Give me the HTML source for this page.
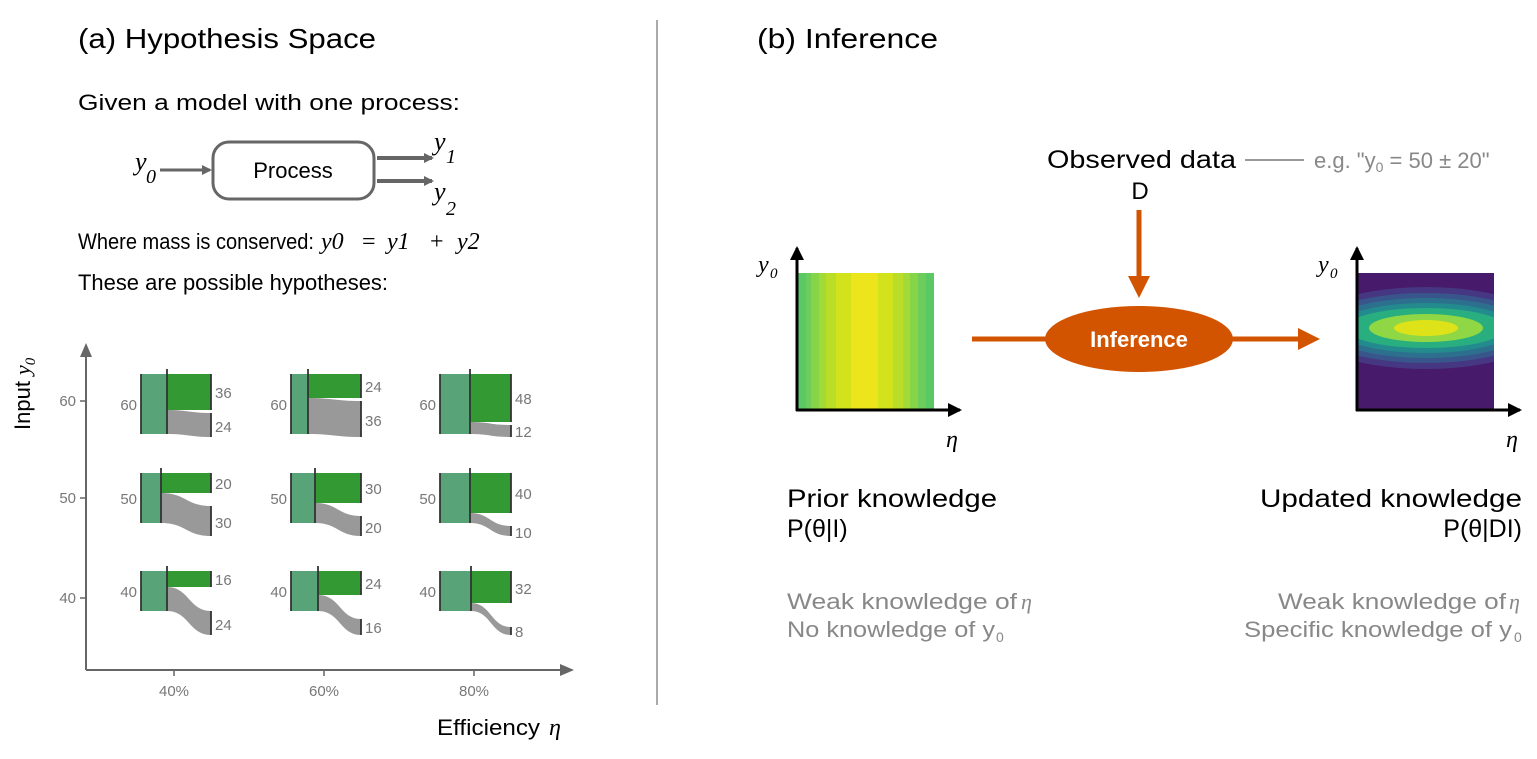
<!DOCTYPE html>
<html><head><meta charset="utf-8"><style>
html,body{margin:0;padding:0;background:#fff;}
svg{display:block;font-family:"Liberation Sans",sans-serif;}
.s{font-family:"Liberation Serif",serif;font-style:italic;}
.g{fill:#777;font-size:15px;}
</style></head><body>
<svg width="1537" height="759" viewBox="0 0 1537 759" xmlns="http://www.w3.org/2000/svg">
<defs>
<marker id="ga" markerWidth="10" markerHeight="10" refX="8" refY="5" orient="auto" markerUnits="userSpaceOnUse"><path d="M0,0 L10,5 L0,10 Z" fill="#666"/></marker>
<marker id="ka" markerWidth="14" markerHeight="14" refX="12" refY="7" orient="auto" markerUnits="userSpaceOnUse"><path d="M0,0 L14,7 L0,14 Z" fill="#000"/></marker>
<marker id="da" markerWidth="14" markerHeight="14" refX="12" refY="7" orient="auto" markerUnits="userSpaceOnUse"><path d="M0,1 L14,7 L0,13 Z" fill="#666"/></marker>
<clipPath id="pc"><rect x="1358" y="273" width="136" height="137"/></clipPath>
</defs>

<text x="78" y="48" font-size="28" textLength="298" lengthAdjust="spacingAndGlyphs">(a) Hypothesis Space</text>
<text x="78" y="110" font-size="22" textLength="382" lengthAdjust="spacingAndGlyphs">Given a model with one process:</text>
<text x="135" y="170" class="s" font-size="26">y</text><text x="146" y="183" class="s" font-size="20">0</text>
<line x1="160" y1="170" x2="210" y2="170" stroke="#666" stroke-width="3" marker-end="url(#ga)"/>
<rect x="213" y="142" width="161" height="57" rx="16" fill="#fff" stroke="#666" stroke-width="3"/>
<text x="293" y="178" font-size="22" text-anchor="middle">Process</text>
<line x1="377" y1="158" x2="432" y2="158" stroke="#666" stroke-width="4" marker-end="url(#ga)"/>
<line x1="377" y1="181" x2="432" y2="181" stroke="#666" stroke-width="4" marker-end="url(#ga)"/>
<text x="434" y="150" class="s" font-size="26">y</text><text x="446" y="163" class="s" font-size="20">1</text>
<text x="434" y="200" class="s" font-size="26">y</text><text x="446" y="215" class="s" font-size="20">2</text>
<text x="78" y="249" font-size="22" textLength="236" lengthAdjust="spacingAndGlyphs">Where mass is conserved:</text>
<g class="s" font-size="24"><text x="321" y="249">y0</text><text x="362" y="249" font-style="normal">=</text><text x="387" y="249">y1</text><text x="430" y="249" font-style="normal">+</text><text x="457" y="249">y2</text></g>
<text x="78" y="290" font-size="22" textLength="310" lengthAdjust="spacingAndGlyphs">These are possible hypotheses:</text>

<line x1="86" y1="670" x2="86" y2="345" stroke="#666" stroke-width="2" marker-end="url(#da)"/>
<line x1="86" y1="670" x2="572" y2="670" stroke="#666" stroke-width="2" marker-end="url(#da)"/>
<g stroke="#666" stroke-width="1.5"><line x1="80" y1="401" x2="86" y2="401"/><line x1="80" y1="498" x2="86" y2="498"/><line x1="80" y1="598" x2="86" y2="598"/>
<line x1="174" y1="670" x2="174" y2="676"/><line x1="324" y1="670" x2="324" y2="676"/><line x1="474" y1="670" x2="474" y2="676"/></g>
<g class="g" text-anchor="end"><text x="76" y="406">60</text><text x="76" y="503">50</text><text x="76" y="603">40</text></g>
<g class="g" text-anchor="middle"><text x="174" y="696">40%</text><text x="324" y="696">60%</text><text x="474" y="696">80%</text></g>
<text transform="translate(30,430) rotate(-90)" font-size="22" text-anchor="start">Input <tspan class="s">y</tspan><tspan class="s" font-size="15" dy="5">0</tspan></text>
<text x="437" y="735" font-size="22" textLength="103" lengthAdjust="spacingAndGlyphs">Efficiency</text><text x="549" y="735" class="s" font-size="24">η</text>

<g>
<rect x="141" y="374" width="26" height="60" fill="#58a378"/><rect x="167" y="374" width="44" height="36" fill="#339933"/>
<path d="M167,410 C189,410 189,413 211,413 L211,437 C189,437 189,434 167,434Z" fill="#999"/>
<rect x="291" y="374" width="17" height="60" fill="#58a378"/><rect x="308" y="374" width="53" height="24" fill="#339933"/>
<path d="M308,398 C334,398 334,401 361,401 L361,437 C334,437 334,434 308,434Z" fill="#999"/>
<rect x="440" y="374" width="30" height="60" fill="#58a378"/><rect x="470" y="374" width="41" height="48" fill="#339933"/>
<path d="M470,422 C490,422 490,425 511,425 L511,437 C490,437 490,434 470,434Z" fill="#999"/>
<rect x="141" y="473" width="20" height="50" fill="#58a378"/><rect x="161" y="473" width="50" height="20" fill="#339933"/>
<path d="M161,493 C186,493 186,506 211,506 L211,536 C186,536 186,523 161,523Z" fill="#999"/>
<rect x="291" y="473" width="24" height="50" fill="#58a378"/><rect x="315" y="473" width="46" height="30" fill="#339933"/>
<path d="M315,503 C338,503 338,516 361,516 L361,536 C338,536 338,523 315,523Z" fill="#999"/>
<rect x="440" y="473" width="30" height="50" fill="#58a378"/><rect x="470" y="473" width="41" height="40" fill="#339933"/>
<path d="M470,513 C490,513 490,526 511,526 L511,536 C490,536 490,523 470,523Z" fill="#999"/>
<rect x="141" y="571" width="26" height="40" fill="#58a378"/><rect x="167" y="571" width="44" height="16" fill="#339933"/>
<path d="M167,587 C189,587 189,611 211,611 L211,635 C189,635 189,611 167,611Z" fill="#999"/>
<rect x="291" y="571" width="27" height="40" fill="#58a378"/><rect x="318" y="571" width="43" height="24" fill="#339933"/>
<path d="M318,595 C340,595 340,619 361,619 L361,635 C340,635 340,611 318,611Z" fill="#999"/>
<rect x="440" y="571" width="31" height="40" fill="#58a378"/><rect x="471" y="571" width="40" height="32" fill="#339933"/>
<path d="M471,603 C491,603 491,627 511,627 L511,635 C491,635 491,611 471,611Z" fill="#999"/>
</g>
<g stroke="#333" stroke-width="1.8">
<line x1="141" y1="374" x2="141" y2="434"/><line x1="167" y1="369" x2="167" y2="434"/><line x1="211" y1="374" x2="211" y2="410"/><line x1="211" y1="413" x2="211" y2="437"/>
<line x1="291" y1="374" x2="291" y2="434"/><line x1="308" y1="369" x2="308" y2="434"/><line x1="361" y1="374" x2="361" y2="398"/><line x1="361" y1="401" x2="361" y2="437"/>
<line x1="440" y1="374" x2="440" y2="434"/><line x1="470" y1="369" x2="470" y2="434"/><line x1="511" y1="374" x2="511" y2="422"/><line x1="511" y1="425" x2="511" y2="437"/>
<line x1="141" y1="473" x2="141" y2="523"/><line x1="161" y1="468" x2="161" y2="523"/><line x1="211" y1="473" x2="211" y2="493"/><line x1="211" y1="506" x2="211" y2="536"/>
<line x1="291" y1="473" x2="291" y2="523"/><line x1="315" y1="468" x2="315" y2="523"/><line x1="361" y1="473" x2="361" y2="503"/><line x1="361" y1="516" x2="361" y2="536"/>
<line x1="440" y1="473" x2="440" y2="523"/><line x1="470" y1="468" x2="470" y2="523"/><line x1="511" y1="473" x2="511" y2="513"/><line x1="511" y1="526" x2="511" y2="536"/>
<line x1="141" y1="571" x2="141" y2="611"/><line x1="167" y1="566" x2="167" y2="611"/><line x1="211" y1="571" x2="211" y2="587"/><line x1="211" y1="611" x2="211" y2="635"/>
<line x1="291" y1="571" x2="291" y2="611"/><line x1="318" y1="566" x2="318" y2="611"/><line x1="361" y1="571" x2="361" y2="595"/><line x1="361" y1="619" x2="361" y2="635"/>
<line x1="440" y1="571" x2="440" y2="611"/><line x1="471" y1="566" x2="471" y2="611"/><line x1="511" y1="571" x2="511" y2="603"/><line x1="511" y1="627" x2="511" y2="635"/>
</g>
<g class="g">
<text x="137" y="410" text-anchor="end">60</text><text x="215" y="398">36</text><text x="215" y="432">24</text>
<text x="287" y="410" text-anchor="end">60</text><text x="365" y="392">24</text><text x="365" y="426">36</text>
<text x="436" y="410" text-anchor="end">60</text><text x="515" y="404">48</text><text x="515" y="437">12</text>
<text x="137" y="504" text-anchor="end">50</text><text x="215" y="489">20</text><text x="215" y="528">30</text>
<text x="287" y="504" text-anchor="end">50</text><text x="365" y="494">30</text><text x="365" y="533">20</text>
<text x="436" y="504" text-anchor="end">50</text><text x="515" y="499">40</text><text x="515" y="538">10</text>
<text x="137" y="597" text-anchor="end">40</text><text x="215" y="585">16</text><text x="215" y="630">24</text>
<text x="287" y="597" text-anchor="end">40</text><text x="365" y="589">24</text><text x="365" y="633">16</text>
<text x="436" y="597" text-anchor="end">40</text><text x="515" y="594">32</text><text x="515" y="637">8</text>
</g>

<line x1="657" y1="20" x2="657" y2="705" stroke="#aaa" stroke-width="2"/>

<text x="757" y="48" font-size="28" textLength="181" lengthAdjust="spacingAndGlyphs">(b) Inference</text>
<text x="1047" y="168" font-size="25" textLength="189" lengthAdjust="spacingAndGlyphs">Observed data</text>
<line x1="1245" y1="160" x2="1304" y2="160" stroke="#999" stroke-width="2"/>
<text x="1314" y="168" font-size="22" fill="#888">e.g. "y<tspan font-size="14" dy="4">0</tspan><tspan dy="-4"> = 50 ± 20"</tspan></text>
<text x="1140" y="199" font-size="24" text-anchor="middle">D</text>
<line x1="1139" y1="210" x2="1139" y2="278" stroke="#d35400" stroke-width="5"/>
<path d="M1128,276 L1150,276 L1139,298 Z" fill="#d35400"/>
<line x1="972" y1="339" x2="1050" y2="339" stroke="#d35400" stroke-width="5"/>
<ellipse cx="1139" cy="339" rx="94" ry="33" fill="#d35400"/>
<text x="1139" y="347" font-size="22" font-weight="bold" fill="#fff" text-anchor="middle">Inference</text>
<line x1="1228" y1="339" x2="1300" y2="339" stroke="#d35400" stroke-width="5"/>
<path d="M1298,328 L1320,339 L1298,350 Z" fill="#d35400"/>

<g>
<rect x="798" y="273" width="8" height="137" fill="#5ac864"/><rect x="806" y="273" width="5" height="137" fill="#6ccd5a"/>
<rect x="811" y="273" width="8" height="137" fill="#86d549"/><rect x="819" y="273" width="7" height="137" fill="#a2da37"/>
<rect x="826" y="273" width="10" height="137" fill="#bade28"/><rect x="836" y="273" width="15" height="137" fill="#d2e21b"/>
<rect x="851" y="273" width="27" height="137" fill="#ede51b"/><rect x="878" y="273" width="15" height="137" fill="#d2e21b"/>
<rect x="893" y="273" width="10" height="137" fill="#bade28"/><rect x="903" y="273" width="7" height="137" fill="#a2da37"/>
<rect x="910" y="273" width="8" height="137" fill="#86d549"/><rect x="918" y="273" width="8" height="137" fill="#6ccd5a"/>
<rect x="926" y="273" width="8" height="137" fill="#5ac864"/>
</g>
<line x1="797" y1="411" x2="797" y2="248" stroke="#000" stroke-width="3" marker-end="url(#ka)"/>
<line x1="796" y1="410" x2="960" y2="410" stroke="#000" stroke-width="3" marker-end="url(#ka)"/>
<text x="758" y="272" class="s" font-size="24">y</text><text x="770" y="278" class="s" font-size="15">0</text>
<text x="946" y="447" class="s" font-size="24">η</text>

<g clip-path="url(#pc)">
<rect x="1358" y="273" width="136" height="137" fill="#481a6c"/>
<ellipse cx="1426" cy="328" rx="120" ry="41" fill="#453781"/>
<ellipse cx="1426" cy="328" rx="110" ry="35" fill="#39568c"/>
<ellipse cx="1426" cy="328" rx="100" ry="30" fill="#2d708e"/>
<ellipse cx="1426" cy="328" rx="90" ry="25" fill="#238a8d"/>
<ellipse cx="1426" cy="328" rx="80" ry="20" fill="#29af7f"/>
<ellipse cx="1426" cy="328" rx="57" ry="14" fill="#8fd744"/>
<ellipse cx="1426" cy="328" rx="32" ry="8" fill="#dde318"/>
</g>
<line x1="1357" y1="411" x2="1357" y2="248" stroke="#000" stroke-width="3" marker-end="url(#ka)"/>
<line x1="1356" y1="410" x2="1520" y2="410" stroke="#000" stroke-width="3" marker-end="url(#ka)"/>
<text x="1318" y="272" class="s" font-size="24">y</text><text x="1330" y="278" class="s" font-size="15">0</text>
<text x="1506" y="447" class="s" font-size="24">η</text>

<text x="787" y="507" font-size="25" textLength="210" lengthAdjust="spacingAndGlyphs">Prior knowledge</text>
<text x="787" y="537" font-size="25">P(θ|I)</text>
<text x="787" y="609" font-size="22" fill="#888" textLength="230" lengthAdjust="spacingAndGlyphs">Weak knowledge of</text><text x="1021" y="609" class="s" font-size="22" fill="#888">η</text>
<text x="787" y="637" font-size="22" fill="#888" textLength="208" lengthAdjust="spacingAndGlyphs">No knowledge of y</text><text x="996" y="642" font-size="14" fill="#888">0</text>

<text x="1522" y="507" font-size="25" text-anchor="end" textLength="262" lengthAdjust="spacingAndGlyphs">Updated knowledge</text>
<text x="1522" y="537" font-size="25" text-anchor="end">P(θ|DI)</text>
<text x="1506" y="609" font-size="22" fill="#888" text-anchor="end" textLength="228" lengthAdjust="spacingAndGlyphs">Weak knowledge of</text><text x="1509" y="609" class="s" font-size="22" fill="#888">η</text>
<text x="1512" y="637" font-size="22" fill="#888" text-anchor="end" textLength="268" lengthAdjust="spacingAndGlyphs">Specific knowledge of y</text><text x="1514" y="642" font-size="14" fill="#888">0</text>
</svg>
</body></html>
